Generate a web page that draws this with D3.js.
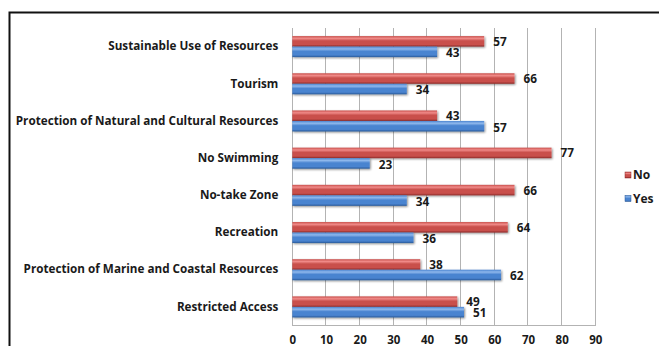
<!DOCTYPE html>
<html>
<head>
<meta charset="utf-8">
<script src="https://cdn.jsdelivr.net/npm/d3@7"></script>
<style>
  html, body { margin: 0; padding: 0; background: #fff; }
  svg { display: block; }
  text { font-family: "Open Sans", "Liberation Sans", Arial, sans-serif; font-weight: 700; fill: #1a1a1a; }
</style>
</head>
<body>
<svg id="chart" width="659" height="346"></svg>
<script>
// Survey responses per MPA concept (percent)
const categories = [
  "Sustainable Use of Resources",
  "Tourism",
  "Protection of Natural and Cultural Resources",
  "No Swimming",
  "No-take Zone",
  "Recreation",
  "Protection of Marine and Coastal Resources",
  "Restricted Access"
];
const noValues  = [57, 66, 43, 77, 66, 64, 38, 49];
const yesValues = [43, 34, 57, 23, 34, 36, 62, 51];
const seriesNames = ["No", "Yes"];
const xTicks = [0, 10, 20, 30, 40, 50, 60, 70, 80, 90];

const FONT = "'Open Sans', 'Liberation Sans', Arial, sans-serif";
const svg = d3.select("#chart");

const plot = { left: 292.3, right: 595.3, top: 28, bottom: 325.5 };

const x = d3.scaleLinear().domain([0, 90]).range([plot.left, plot.right]);
const y = d3.scaleBand().domain(categories).range([plot.top, plot.bottom])
  .paddingInner(0.435).paddingOuter(0.2175);
const ySub = d3.scaleBand().domain(seriesNames).range([0, y.bandwidth()]);

const colors = {
  No:  { light: "#f08a88", mid: "#c9504c", dark: "#8e2b29" },
  Yes: { light: "#8fb8ec", mid: "#4a84d0", dark: "#2a5a9a" }
};

// Bar gradients (top highlight, dark lower edge)
const defs = svg.append("defs");
seriesNames.forEach(s => {
  const g = defs.append("linearGradient").attr("id", "grad" + s)
    .attr("x1", 0).attr("y1", 0).attr("x2", 0).attr("y2", 1);
  g.append("stop").attr("offset", "0%").attr("stop-color", colors[s].mid);
  g.append("stop").attr("offset", "22%").attr("stop-color", colors[s].light);
  g.append("stop").attr("offset", "45%").attr("stop-color", colors[s].mid);
  g.append("stop").attr("offset", "80%").attr("stop-color", colors[s].mid);
  g.append("stop").attr("offset", "100%").attr("stop-color", colors[s].dark);
});
const shadow = defs.append("filter").attr("id", "shadow")
  .attr("x", "-5%").attr("y", "-30%").attr("width", "115%").attr("height", "180%");
shadow.append("feGaussianBlur").attr("in", "SourceAlpha").attr("stdDeviation", 0.8).attr("result", "b");
shadow.append("feOffset").attr("in", "b").attr("dx", 1.2).attr("dy", 1.2).attr("result", "o");
shadow.append("feComponentTransfer").attr("in", "o").attr("result", "s")
  .append("feFuncA").attr("type", "linear").attr("slope", 0.45);
const merge = shadow.append("feMerge");
merge.append("feMergeNode").attr("in", "s");
merge.append("feMergeNode").attr("in", "SourceGraphic");

// Outer frame (left and top edges)
svg.append("path")
  .attr("d", "M9.5,346 V12.5 H659")
  .attr("fill", "none").attr("stroke", "#111").attr("stroke-width", 2);

// Vertical gridlines
svg.append("g").selectAll("line").data(xTicks).join("line")
  .attr("x1", d => x(d)).attr("x2", d => x(d))
  .attr("y1", plot.top).attr("y2", plot.bottom)
  .attr("stroke", "#b3b3b3").attr("stroke-width", 1)
  .attr("shape-rendering", "crispEdges");

// Bottom axis line
svg.append("line")
  .attr("x1", plot.left).attr("x2", plot.right)
  .attr("y1", plot.bottom).attr("y2", plot.bottom)
  .attr("stroke", "#b3b3b3").attr("shape-rendering", "crispEdges");

// X tick labels
const xAxis = d3.axisBottom(x).tickValues(xTicks).tickSize(0).tickPadding(0);
const gx = svg.append("g").attr("transform", `translate(0,${plot.bottom})`).call(xAxis);
gx.select(".domain").remove();
gx.selectAll("text").attr("y", 14.5).attr("dy", "0.35em")
  .style("font-family", FONT)
  .style("font-weight", 700).style("font-size", "11.5px").attr("fill", "#1a1a1a");

// Category labels
const yAxis = d3.axisLeft(y).tickSize(0).tickPadding(0);
const gy = svg.append("g").attr("transform", `translate(${plot.left - 14},0)`).call(yAxis);
gy.select(".domain").remove();
gy.selectAll("text")
  .style("font-family", FONT)
  .style("font-weight", 700).style("font-size", "11.7px").attr("fill", "#1a1a1a");

// Bars
const rows = categories.map((c, i) => ({ cat: c, No: noValues[i], Yes: yesValues[i] }));
const groups = svg.append("g").selectAll("g").data(rows).join("g")
  .attr("transform", d => `translate(0,${y(d.cat)})`);

const barData = d => seriesNames.map(s => ({ s, v: d[s] }));
groups.selectAll("rect").data(barData).join("rect")
  .attr("x", x(0))
  .attr("y", d => ySub(d.s))
  .attr("width", d => x(d.v) - x(0))
  .attr("height", ySub.bandwidth())
  .attr("fill", d => `url(#grad${d.s})`)
  .attr("filter", "url(#shadow)");

// Value labels
groups.selectAll("text.val").data(barData).join("text")
  .attr("class", "val")
  .attr("x", d => x(d.v) + 9)
  .attr("y", d => ySub(d.s) + ySub.bandwidth() / 2 + (d.s === "No" ? 0.4 : 1.2))
  .attr("dy", "0.35em")
  .style("font-size", "11.8px")
  .text(d => d.v);

// Legend
const legend = svg.append("g").selectAll("g").data(seriesNames).join("g")
  .attr("transform", (d, i) => `translate(625,${175 + i * 23.5})`);
legend.append("rect")
  .attr("x", 0).attr("y", -3).attr("width", 6).attr("height", 6)
  .attr("fill", d => `url(#grad${d})`).attr("stroke", d => colors[d].dark).attr("stroke-width", 0.5);
legend.append("text")
  .attr("x", 8).attr("y", 0).attr("dy", "0.36em")
  .style("font-size", "12px")
  .text(d => d);
</script>
</body>
</html>
